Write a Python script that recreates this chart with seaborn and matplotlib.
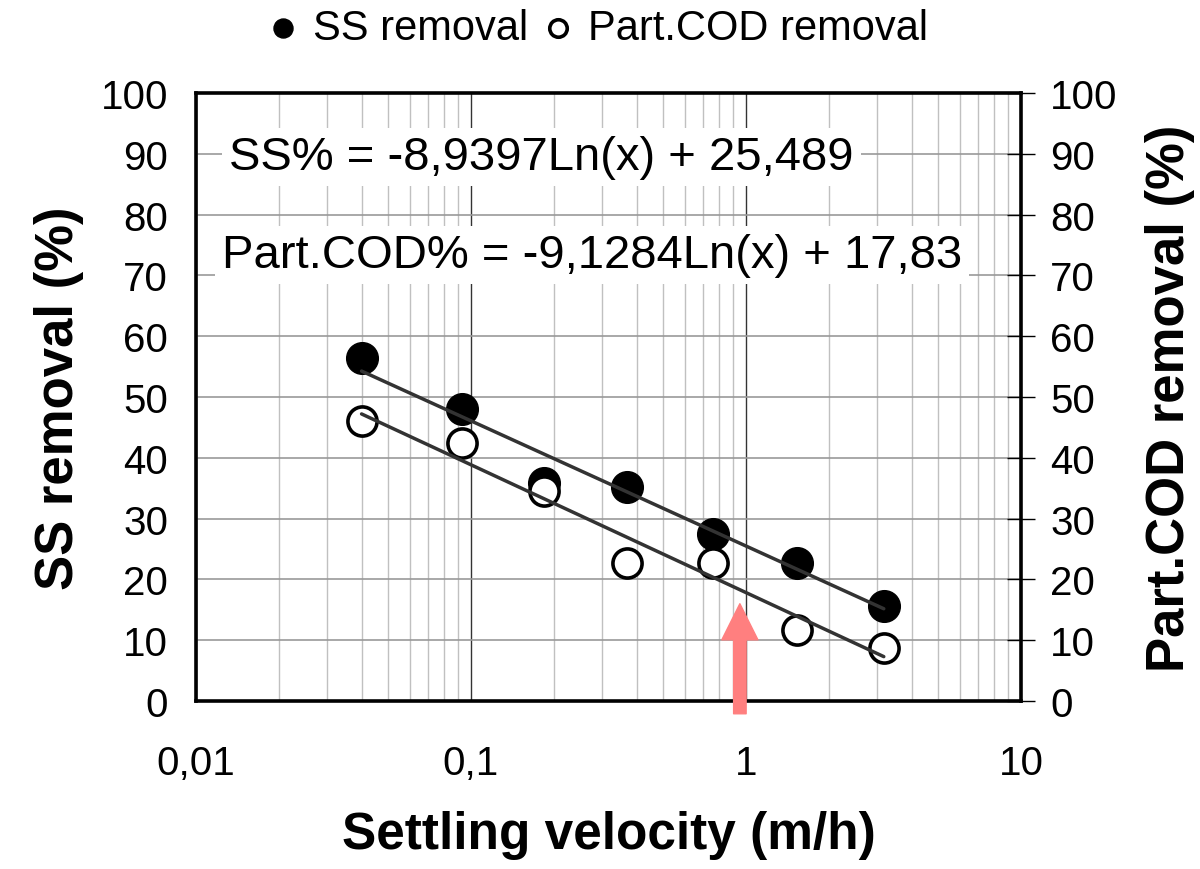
import matplotlib
matplotlib.use("Agg")
import matplotlib.pyplot as plt
from matplotlib.ticker import LogLocator, FixedLocator, NullFormatter, FuncFormatter
import numpy as np
import pandas as pd
import seaborn as sns

# ---- data ----
settling_velocity = [0.04, 0.093, 0.185, 0.37, 0.76, 1.53, 3.17]
ss_removal = [56.4, 48.1, 35.8, 35.2, 27.4, 22.7, 15.7]
cod_removal = [46.0, 42.4, 34.5, 22.7, 22.7, 11.7, 8.7]
ss_fit = [-8.9397, 25.489]      # slope, intercept of SS% = a*Ln(x) + b
cod_fit = [-9.1284, 17.83]      # Part.COD% = a*Ln(x) + b
y_ticks = [0, 10, 20, 30, 40, 50, 60, 70, 80, 90, 100]
x_ticks = [0.01, 0.1, 1, 10]
x_tick_labels = ["0,01", "0,1", "1", "10"]
arrow_x = 0.95
ss_eq = "SS% = -8,9397Ln(x) + 25,489"
cod_eq = "Part.COD% = -9,1284Ln(x) + 17,83"

sns.set_theme(style="white")
plt.rcParams["font.family"] = ["Liberation Sans", "DejaVu Sans"]
plt.rcParams["text.color"] = "black"
plt.rcParams["axes.labelcolor"] = "black"
plt.rcParams["xtick.color"] = "black"
plt.rcParams["ytick.color"] = "black"

df = pd.DataFrame({"v": settling_velocity, "ss": ss_removal, "cod": cod_removal})
df["ss_fit"] = ss_fit[0] * np.log(df["v"]) + ss_fit[1]
df["cod_fit"] = cod_fit[0] * np.log(df["v"]) + cod_fit[1]

fig = plt.figure(figsize=(12, 8.7), dpi=100)
ax = fig.add_axes([196 / 1200, 168 / 870, 825 / 1200, 608 / 870])
ax.set_xscale("log")
ax.set_xlim(0.01, 10)
ax.set_ylim(0, 100)

# grid
ax.xaxis.set_major_locator(FixedLocator(x_ticks))
ax.xaxis.set_minor_locator(LogLocator(base=10, subs=np.arange(2, 10)))
ax.xaxis.set_minor_formatter(NullFormatter())
ax.xaxis.set_major_formatter(FuncFormatter(lambda v, p: dict(zip(x_ticks, x_tick_labels)).get(v, "")))
ax.yaxis.set_major_locator(FixedLocator(y_ticks))
ax.grid(True, which="minor", axis="x", color="#c0c0c0", lw=1.0)
ax.grid(True, which="major", axis="x", color="#333333", lw=1.0)
ax.grid(True, which="major", axis="y", color="#999999", lw=1.2)
ax.set_axisbelow(True)

# fit lines
sns.lineplot(data=df, x="v", y="ss_fit", ax=ax, color="#333333", lw=2.5, zorder=4)
sns.lineplot(data=df, x="v", y="cod_fit", ax=ax, color="#333333", lw=2.5, zorder=4)

# points
sns.scatterplot(data=df, x="v", y="ss", ax=ax, marker="o", s=520, color="black",
                edgecolor="black", linewidth=1, zorder=3, label="SS removal")
sns.scatterplot(data=df, x="v", y="cod", ax=ax, marker="o", s=440, facecolor="white",
                edgecolor="black", linewidth=2.6, zorder=3, label="Part.COD removal")

for sp in ax.spines.values():
    sp.set_linewidth(2.6)
    sp.set_color("black")

ax.tick_params(axis="y", which="both", length=0, labelsize=29, pad=20, colors="black")
ax.tick_params(axis="x", which="major", direction="out", length=11, width=1,
               labelsize=29, pad=20, colors="black")
ax.tick_params(axis="x", which="minor", direction="in", length=5, width=0.8, colors="black")
ax.set_xlabel("Settling velocity (m/h)", fontsize=37, fontweight="bold", labelpad=20)
ax.set_ylabel("SS removal (%)", fontsize=38, fontweight="bold", labelpad=12)

# secondary axis
ax2 = ax.twinx()
ax2.set_ylim(0, 100)
ax2.yaxis.set_major_locator(FixedLocator(y_ticks))
ax2.tick_params(axis="y", direction="inout", length=20, width=1, labelsize=29, pad=11, colors="black")
ax2.set_ylabel("Part.COD removal (%)", fontsize=38, fontweight="bold", labelpad=20)
ax2.grid(False)
for sp in ax2.spines.values():
    sp.set_visible(False)

# equation boxes
ax.text(0.419, 0.895, ss_eq, transform=ax.transAxes, ha="center", va="center", fontsize=34,
        zorder=6, bbox=dict(boxstyle="square,pad=0.15", fc="white", ec="none"))
ax.text(0.48, 0.733, cod_eq, transform=ax.transAxes, ha="center", va="center", fontsize=34,
        zorder=6, bbox=dict(boxstyle="square,pad=0.15", fc="white", ec="none"))

# arrow
ax.annotate("", xy=(arrow_x, 16.0), xytext=(arrow_x, -2.1), annotation_clip=False,
            arrowprops=dict(arrowstyle="simple,head_length=1.3,head_width=1.3,tail_width=0.45",
                            mutation_scale=20, color="#FF7F7F", shrinkA=0, shrinkB=0), zorder=7)

# legend
ax.legend_.remove()
h, l = ax.get_legend_handles_labels()
leg = fig.legend(h, l, loc="center", bbox_to_anchor=(0.492, 0.967), ncol=2, frameon=False,
                 fontsize=30, handlelength=1.45, handletextpad=0.0, columnspacing=0.0,
                 markerscale=0.6, borderaxespad=0)

fig.savefig("out.png", dpi=100)
